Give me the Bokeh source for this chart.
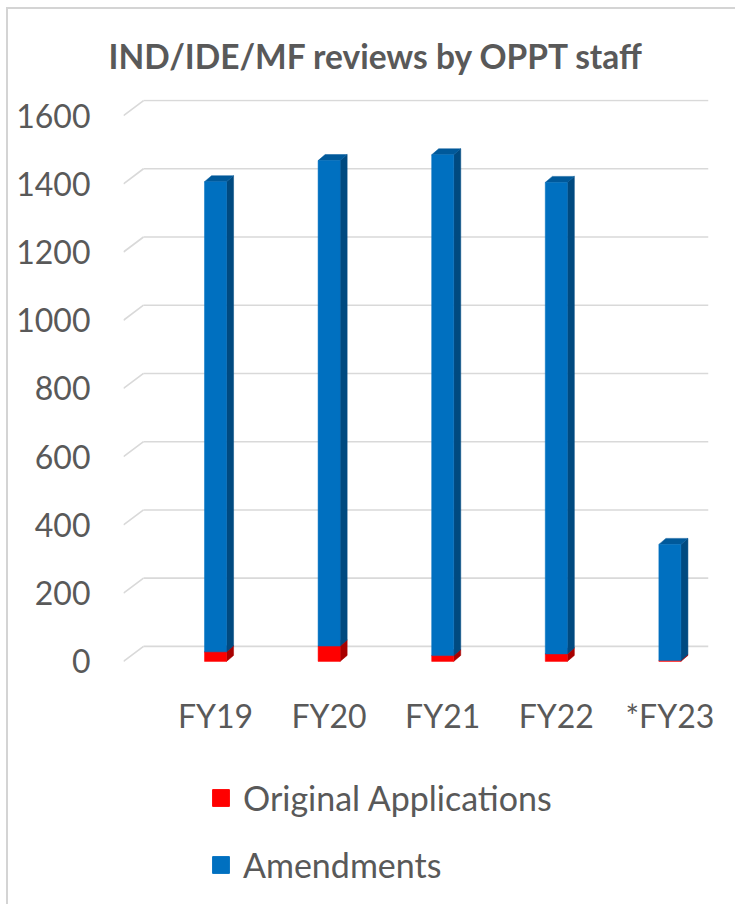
from bokeh.plotting import figure
from bokeh.layouts import column
from bokeh.models import (ColumnDataSource, Legend, LegendItem, FixedTicker,
                          Range1d, Title)
from bokeh.embed import file_html
from bokeh.resources import INLINE

# ---- data ----
categories = ["FY19", "FY20", "FY21", "FY22", "*FY23"]
original_applications = [28, 45, 17, 22, 3]
amendments = [1378, 1423, 1468, 1382, 340]
y_ticks = [0, 200, 400, 600, 800, 1000, 1200, 1400, 1600]
series_names = ["Original Applications", "Amendments"]

# ---- style ----
FONT = "Lato"
TXT = "#595959"
RED_FRONT, RED_SIDE, RED_TOP = "#FF0000", "#A80000", "#C00000"
BLUE_FRONT, BLUE_SIDE, BLUE_TOP = "#0070C0", "#004A80", "#00599A"
GRID = "#D9D9D9"

W = 727
H1, H2 = 739, 156
X0, X1 = -0.81, 4.34
Y0, Y1 = -12, 1647
half_w = 0.097      # half width of bar front face (data units)
dx, dy = 0.062, 17.6  # 3D depth offset of bars
gdx, gdy = 0.176, 44  # 3D offset of back wall gridlines

p = figure(width=W, height=H1, output_backend="svg", toolbar_location=None,
           x_range=Range1d(X0, X1), y_range=Range1d(Y0, Y1),
           min_border_left=115, min_border_right=27, min_border_top=90,
           min_border_bottom=H1 - 656,
           background_fill_color="white", border_fill_color="white")
p.outline_line_color = None
p.grid.visible = False

p.title = Title(text="IND/IDE/MF reviews by OPPT staff", align="left",
                offset=-15, text_font=FONT, text_font_size="33.5px",
                text_font_style="bold", text_color=TXT, standoff=48)

# gridlines on side + back wall
gx0, gy0, gx1, gy1 = [], [], [], []
hx0, hy0, hx1, hy1 = [], [], [], []
for t in y_ticks:
    gx0.append(X0); gy0.append(t); gx1.append(X0 + gdx); gy1.append(t + gdy)
    hx0.append(X0 + gdx); hy0.append(t + gdy); hx1.append(X1); hy1.append(t + gdy)
p.segment(gx0, gy0, gx1, gy1, line_color=GRID, line_width=1.6)
p.segment(hx0, hy0, hx1, hy1, line_color=GRID, line_width=1.6)

# stacked 3D bars
xs = list(range(len(categories)))
bottoms = [0] * len(xs)
styles = [(RED_FRONT, RED_SIDE, RED_TOP), (BLUE_FRONT, BLUE_SIDE, BLUE_TOP)]
for name, vals, (cf, cs, ct) in zip(series_names, [original_applications, amendments], styles):
    tops = [b + v for b, v in zip(bottoms, vals)]
    side_x, side_y, top_x, top_y = [], [], [], []
    for x, b, t in zip(xs, bottoms, tops):
        r = x + half_w
        l = x - half_w
        side_x.append([r, r + dx, r + dx, r])
        side_y.append([b, b + dy, t + dy, t])
        top_x.append([l, l + dx, r + dx, r])
        top_y.append([t, t + dy, t + dy, t])
    p.patches(side_x, side_y, fill_color=cs, line_color=cs, line_width=0.5)
    p.patches(top_x, top_y, fill_color=ct, line_color=ct, line_width=0.5)
    src = ColumnDataSource(dict(left=[x - half_w for x in xs], right=[x + half_w for x in xs],
                                bottom=bottoms, top=tops))
    p.quad(left="left", right="right", bottom="bottom", top="top", source=src,
           fill_color=cf, line_color=cf, line_width=0.5)
    bottoms = tops

# axes
p.yaxis.ticker = FixedTicker(ticks=y_ticks)
p.xaxis.ticker = FixedTicker(ticks=xs)
p.xaxis.major_label_overrides = {i: c for i, c in enumerate(categories)}
for ax in (p.xaxis[0], p.yaxis[0]):
    ax.axis_line_color = None
    ax.major_tick_line_color = None
    ax.minor_tick_line_color = None
    ax.major_label_text_font = FONT
    ax.major_label_text_font_size = "32px"
    ax.major_label_text_color = TXT
p.yaxis.major_label_standoff = 27
p.xaxis.major_label_standoff = 24

# legend panel (separate figure below the chart)
q = figure(width=W, height=H2, output_backend="svg", toolbar_location=None,
           x_range=Range1d(0, 1), y_range=Range1d(0, 1),
           min_border_left=0, min_border_right=0, min_border_top=0, min_border_bottom=0,
           background_fill_color="white", border_fill_color="white")
q.outline_line_color = None
q.axis.visible = False
q.grid.visible = False
nan = float("nan")
items = []
for name, (cf, cs, ct) in zip(series_names, styles):
    r = q.quad(left=[nan], right=[nan], bottom=[nan], top=[nan], fill_color=cf, line_color=cf)
    items.append(LegendItem(label=name, renderers=[r]))
legend = Legend(items=items, location=(87, 19), orientation="vertical",
                label_text_font=FONT, label_text_font_size="34px", label_text_color=TXT,
                glyph_width=21, glyph_height=21, label_height=21, label_standoff=12,
                spacing=26, padding=0, margin=0,
                border_line_alpha=0, background_fill_alpha=0)
q.add_layout(legend)

layout = column(p, q, spacing=0,
                styles={"margin-left": "6px", "margin-top": "7px",
                        "border-left": "2px solid #D4D4D4", "border-top": "2px solid #D4D4D4"})
open("out.html", "w").write(file_html(layout, INLINE))
